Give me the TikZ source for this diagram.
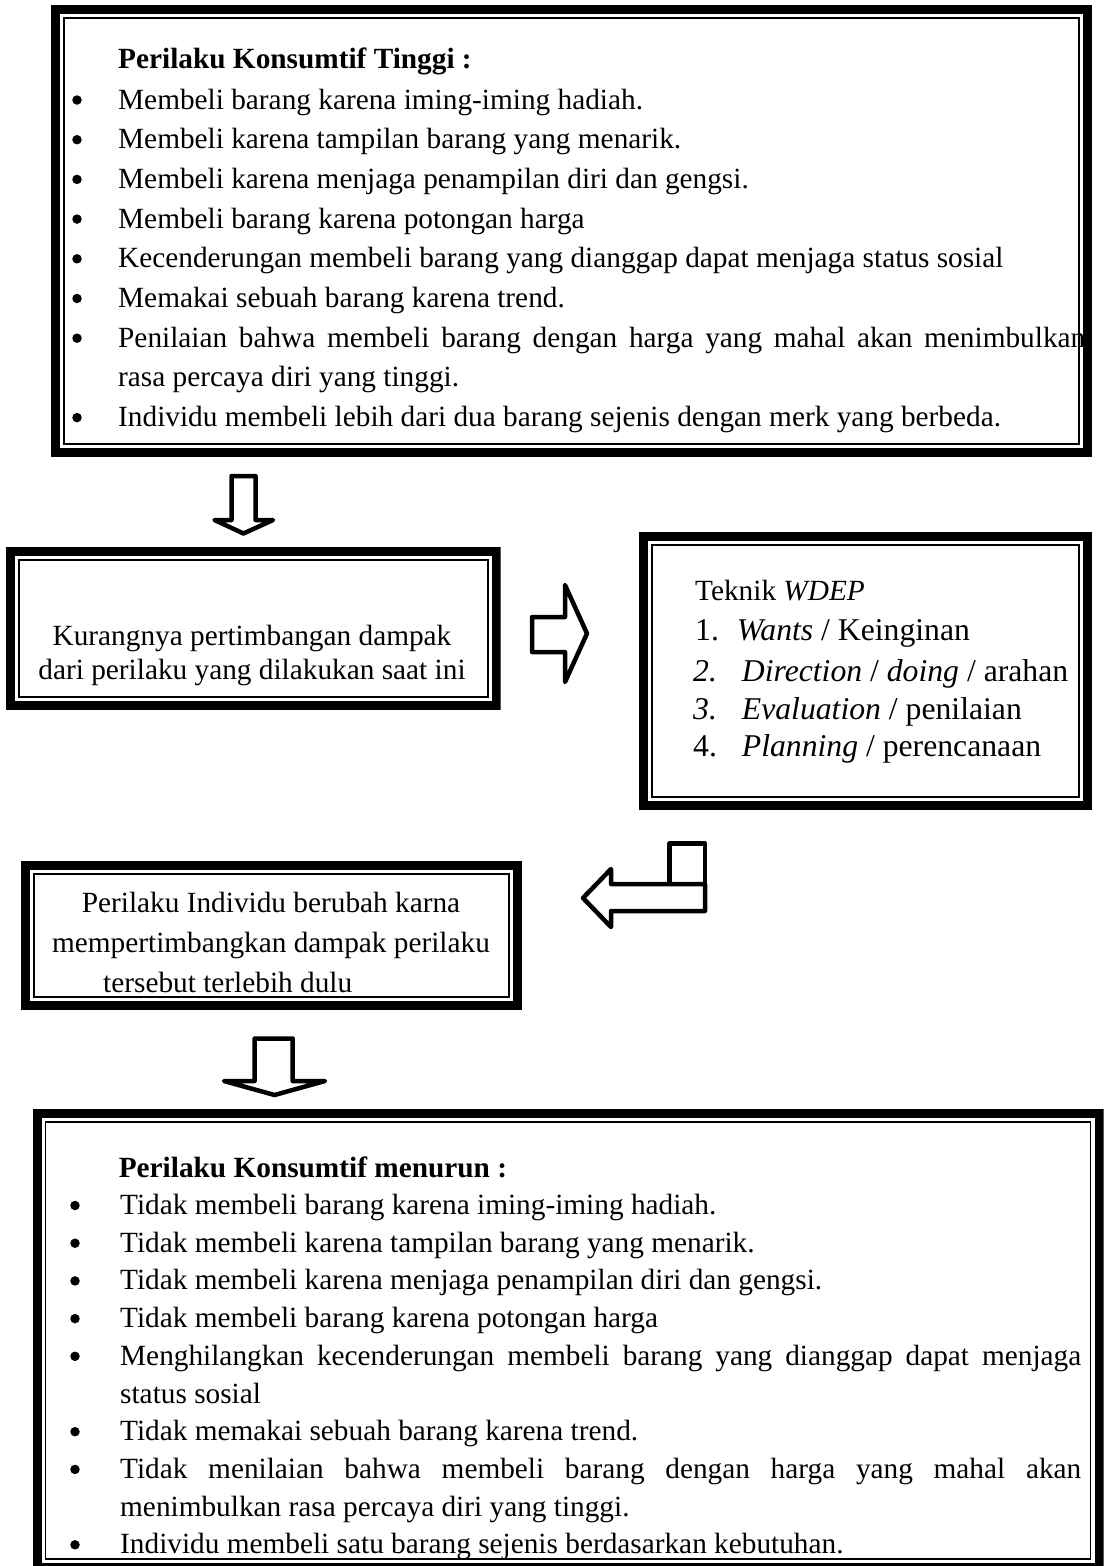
\documentclass[tikz,border=0pt]{standalone}
\usepackage{fontspec}
\setmainfont{Liberation Serif}
\begin{document}
\begin{tikzpicture}[x=1pt,y=-1pt,
  dbox/.style={inner sep=0pt, outer sep=0pt, anchor=north west, path picture={
     \draw[line width=9pt] ([xshift=4.5pt,yshift=-4.5pt]path picture bounding box.north west) rectangle ([xshift=-4.5pt,yshift=4.5pt]path picture bounding box.south east);
     \draw[line width=1.8pt] ([xshift=13pt,yshift=-13pt]path picture bounding box.north west) rectangle ([xshift=-13pt,yshift=13pt]path picture bounding box.south east);}},
  txt/.style={anchor=base west, inner sep=0pt, font=\fontsize{29.3}{35}\selectfont},
  big/.style={anchor=base west, inner sep=0pt, font=\fontsize{31.7}{38}\selectfont},
  ctr/.style={anchor=base, inner sep=0pt, font=\fontsize{29.3}{35}\selectfont},
  blk/.style={draw, line width=4.5pt, line join=round, fill=white},
  bul/.style={fill, circle, inner sep=0pt, minimum size=9.5pt}
]
\useasboundingbox (0,0) rectangle (1104,1566);
% ---------- boxes ----------
\node[dbox, minimum width=1041pt, minimum height=452pt] (top) at (51,5) {};
\node[dbox, minimum width=495pt, minimum height=163pt] (kur) at (5.7,547) {};
\node[dbox, minimum width=453pt, minimum height=278pt] (wdep) at (639,532) {};
\node[dbox, minimum width=501pt, minimum height=149pt] (ind) at (21,861) {};
\node[dbox, minimum width=1071pt, minimum height=463pt] (bot) at (32.5,1109) {};

% ---------- top box text ----------
\node[txt] (th) at (118,68) {\textbf{Perilaku Konsumtif Tinggi :}};
\node[txt] (t1) at (118,109) {Membeli barang karena iming-iming hadiah.};
\node[txt] (t2) at (118,148.7) {Membeli karena tampilan barang yang menarik.};
\node[txt] (t3) at (118,188.4) {Membeli karena menjaga penampilan diri dan gengsi.};
\node[txt] (t4) at (118,228.1) {Membeli barang karena potongan harga};
\node[txt] (t5) at (118,267.8) {Kecenderungan membeli barang yang dianggap dapat menjaga status sosial};
\node[txt] (t6) at (118,307.5) {Memakai sebuah barang karena trend.};
\node[txt] (t7) at (118,347.2) {\makebox[967pt][s]{Penilaian bahwa membeli barang dengan harga yang mahal akan menimbulkan}};
\node[txt] (t7b) at (118,386.9) {rasa percaya diri yang tinggi.};
\node[txt] (t8) at (118,426.6) {Individu membeli lebih dari dua barang sejenis dengan merk yang berbeda.};
\foreach \yy/\nm in {109/a,148.7/b,188.4/c,228.1/d,267.8/e,307.5/f,347.2/g,426.6/h}
  \node[bul] (tb\nm) at (77,\yy-9) {};

% ---------- Kurangnya box ----------
\node[ctr] (k1) at (252,645) {Kurangnya pertimbangan dampak};
\node[ctr] (k2) at (252,679) {dari perilaku yang dilakukan saat ini};

% ---------- WDEP box ----------
\node[txt] (w0) at (695,600) {Teknik \textit{WDEP}};
\node[big] (n1) at (695,640) {1.};
\node[big] (w1) at (736.7,640) {\textit{Wants} / Keinginan};
\node[big] (n2) at (693,681.7) {\textit{2.}};
\node[big] (w2) at (741.7,681.7) {\textit{Direction} / \textit{doing} / arahan};
\node[big] (n3) at (693,719.3) {\textit{3.}};
\node[big] (w3) at (741.7,719.3) {\textit{Evaluation} / penilaian};
\node[big] (n4) at (693,756) {4.};
\node[big] (w4) at (741.7,756) {\textit{Planning} / perencanaan};

% ---------- Individu box ----------
\node[ctr] (i1) at (271,912.5) {Perilaku Individu berubah karna};
\node[ctr] (i2) at (271,952.5) {mempertimbangkan dampak perilaku};
\node[txt] (i3) at (103,992.5) {tersebut terlebih dulu};

% ---------- bottom box text ----------
\node[txt] (bh) at (118.6,1177) {\textbf{Perilaku Konsumtif menurun :}};
\node[txt] (b1) at (120,1214.5) {Tidak membeli barang karena iming-iming hadiah.};
\node[txt] (b2) at (120,1252.2) {Tidak membeli karena tampilan barang yang menarik.};
\node[txt] (b3) at (120,1289.9) {Tidak membeli karena menjaga penampilan diri dan gengsi.};
\node[txt] (b4) at (120,1327.6) {Tidak membeli barang karena potongan harga};
\node[txt] (b5) at (120,1365.3) {\makebox[961pt][s]{Menghilangkan kecenderungan membeli barang yang dianggap dapat menjaga}};
\node[txt] (b5b) at (120,1403) {status sosial};
\node[txt] (b6) at (120,1440.7) {Tidak memakai sebuah barang karena trend.};
\node[txt] (b7) at (120,1478.4) {\makebox[961pt][s]{Tidak menilaian bahwa membeli barang dengan harga yang mahal akan}};
\node[txt] (b7b) at (120,1516.1) {menimbulkan rasa percaya diri yang tinggi.};
\node[txt] (b8) at (120,1553.8) {Individu membeli satu barang sejenis berdasarkan kebutuhan.};
\foreach \yy/\nm in {1214.5/a,1252.2/b,1289.9/c,1327.6/d,1365.3/e,1440.7/f,1478.4/g,1553.8/h}
  \node[bul] (bb\nm) at (75,\yy-9) {};

% ---------- block arrows ----------
% down arrow 1
\draw[blk] (231.5,476) -- (255.5,476) -- (255.5,520) -- (273,520) -- (243.5,533.5)
  -- (214.5,520) -- (231.5,520) -- cycle;
% right arrow
\draw[blk] (532,617) -- (565,617) -- (565,585) -- (587,633.5) -- (565,682) -- (565,652)
  -- (532,652) -- cycle;
% elbow arrow
\draw[blk] (705,884) -- (611,884) -- (611,869) -- (583,898) -- (611,927) -- (611,911)
  -- (705,911) -- cycle;
\draw[blk, fill=none] (669.5,884) -- (669.5,843.3) -- (705,843.3) -- (705,884);
% down arrow 2
\draw[blk] (254.6,1038.5) -- (292.7,1038.5) -- (292.7,1081) -- (325,1081) -- (274.5,1095)
  -- (224,1081) -- (254.6,1081) -- cycle;
\end{tikzpicture}
\end{document}
